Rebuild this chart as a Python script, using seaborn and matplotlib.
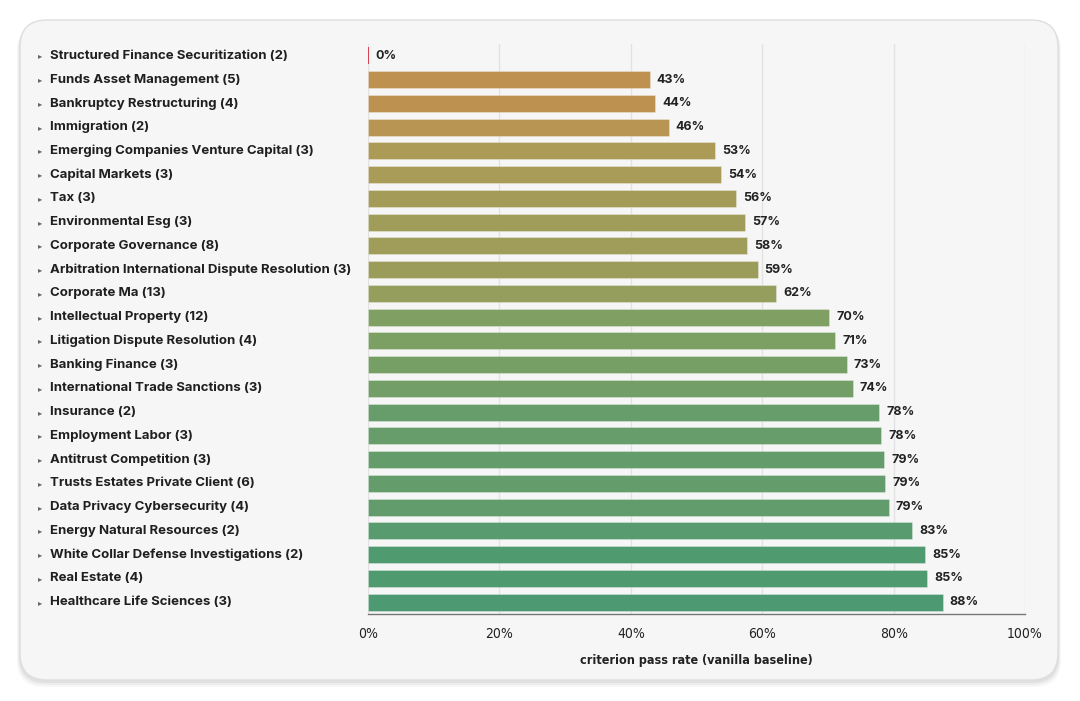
import numpy as np
import pandas as pd
import seaborn as sns
import matplotlib.pyplot as plt
from matplotlib.colors import LinearSegmentedColormap, to_hex
from matplotlib.patches import FancyBboxPatch
import matplotlib.transforms as mtransforms

# data
areas = [
    "Structured Finance Securitization (2)", "Funds Asset Management (5)",
    "Bankruptcy Restructuring (4)", "Immigration (2)",
    "Emerging Companies Venture Capital (3)", "Capital Markets (3)", "Tax (3)",
    "Environmental Esg (3)", "Corporate Governance (8)",
    "Arbitration International Dispute Resolution (3)", "Corporate Ma (13)",
    "Intellectual Property (12)", "Litigation Dispute Resolution (4)",
    "Banking Finance (3)", "International Trade Sanctions (3)", "Insurance (2)",
    "Employment Labor (3)", "Antitrust Competition (3)",
    "Trusts Estates Private Client (6)", "Data Privacy Cybersecurity (4)",
    "Energy Natural Resources (2)", "White Collar Defense Investigations (2)",
    "Real Estate (4)", "Healthcare Life Sciences (3)",
]
pass_rate = [0.0, 42.9, 43.7, 45.8, 52.8, 53.7, 56.0, 57.4, 57.7, 59.3, 62.1,
             70.2, 71.1, 72.9, 73.8, 77.8, 78.1, 78.6, 78.7, 79.3, 82.8, 84.8,
             85.1, 87.5]
xticks = [0, 20, 40, 60, 80, 100]

df = pd.DataFrame({"area": areas, "rate": pass_rate})

sns.set_theme(style="white")
plt.rcParams["font.family"] = ["Inter", "DejaVu Sans"]

# muted orange -> green ramp by value
cmap = LinearSegmentedColormap.from_list("og", [
    (0.00, "#c38e4f"), (0.20, "#b19a56"), (0.38, "#9d9c5a"),
    (0.54, "#89a060"), (0.70, "#709e68"), (0.90, "#509a70"), (1.0, "#4a9872")])

def bar_color(v):
    if v <= 0:
        return "#d8404c"
    return to_hex(cmap(np.clip((v - 40) / 50, 0, 1)))

palette = {a: bar_color(v) for a, v in zip(areas, pass_rate)}

W, H = 1080, 701
fig = plt.figure(figsize=(W / 100, H / 100), dpi=100)
fig.patch.set_facecolor("white")

# card with soft shadow
for i, a in enumerate([0.05, 0.04, 0.03]):
    off = (i + 1) * 2
    fig.patches.append(FancyBboxPatch(
        ((20 - off / 2) / W, 1 - (681 + off) / H), (1038 + off) / W, (660 + off / 2) / H,
        boxstyle="round,pad=0,rounding_size=0.025", transform=fig.transFigure,
        facecolor="black", edgecolor="none", alpha=a, zorder=0, mutation_aspect=W / H))
fig.patches.append(FancyBboxPatch(
    (20 / W, 1 - 680 / H), 1038 / W, 660 / H,
    boxstyle="round,pad=0,rounding_size=0.025", transform=fig.transFigure,
    facecolor="#f6f6f6", edgecolor="#dedede", linewidth=1, zorder=1,
    mutation_aspect=W / H))

x0, x1 = 368 / W, 1025 / W
y_bot, y_top = 1 - 614 / H, 1 - 44 / H
ax = fig.add_axes([x0, y_bot, x1 - x0, y_top - y_bot])
ax.set_facecolor("none")
ax.set_zorder(2)

sns.barplot(data=df, x="rate", y="area", hue="area", palette=palette,
            legend=False, orient="h", width=0.72, ax=ax,
            edgecolor="#ffffff55", linewidth=0.6, saturation=1)

# zero bar drawn as thin red line
for p, v in zip(ax.patches, pass_rate):
    if v <= 0:
        p.set_edgecolor(bar_color(v))
        p.set_linewidth(1.4)

narrow = dict(family=["DejaVu Sans"], fontstretch="condensed")

ax.set_xlim(0, 100)
ax.set_ylim(len(areas) - 0.5, -0.5)
ax.set_xticks(xticks)
ax.set_xticklabels([f"{t}%" for t in xticks], fontsize=10, color="#222222", **narrow)
ax.tick_params(axis="x", direction="out", length=5, width=1, color="#555555", pad=4)
ax.grid(axis="x", color="#e2e2e2", linewidth=1)
ax.set_axisbelow(True)
for s in ["top", "right", "left"]:
    ax.spines[s].set_visible(False)
ax.spines["bottom"].set_color("#777777")
ax.spines["bottom"].set_linewidth(1)

ax.set_yticks([])
ax.set_ylabel("")
ax.set_xlabel("criterion pass rate (vanilla baseline)", fontsize=9, fontweight="bold",
              color="#222222", labelpad=10, **narrow)

# value labels
for cont, v in zip(ax.containers, pass_rate):
    ax.bar_label(cont, labels=[f"{v:.0f}%"], padding=5, fontsize=9,
                 fontweight="bold", color="#222222")

# category labels, left aligned with small triangle marker
trans = mtransforms.blended_transform_factory(fig.transFigure, ax.transData)
for i, a in enumerate(areas):
    ax.text(38 / W, i, "▸", transform=trans, ha="left", va="center",
            fontsize=6, color="#666666", family=["DejaVu Sans"])
    ax.text(50 / W, i, a, transform=trans, ha="left", va="center",
            fontsize=9.5, fontweight="bold", color="#1f1f1f")

fig.savefig("out.png", dpi=100, facecolor="white")
